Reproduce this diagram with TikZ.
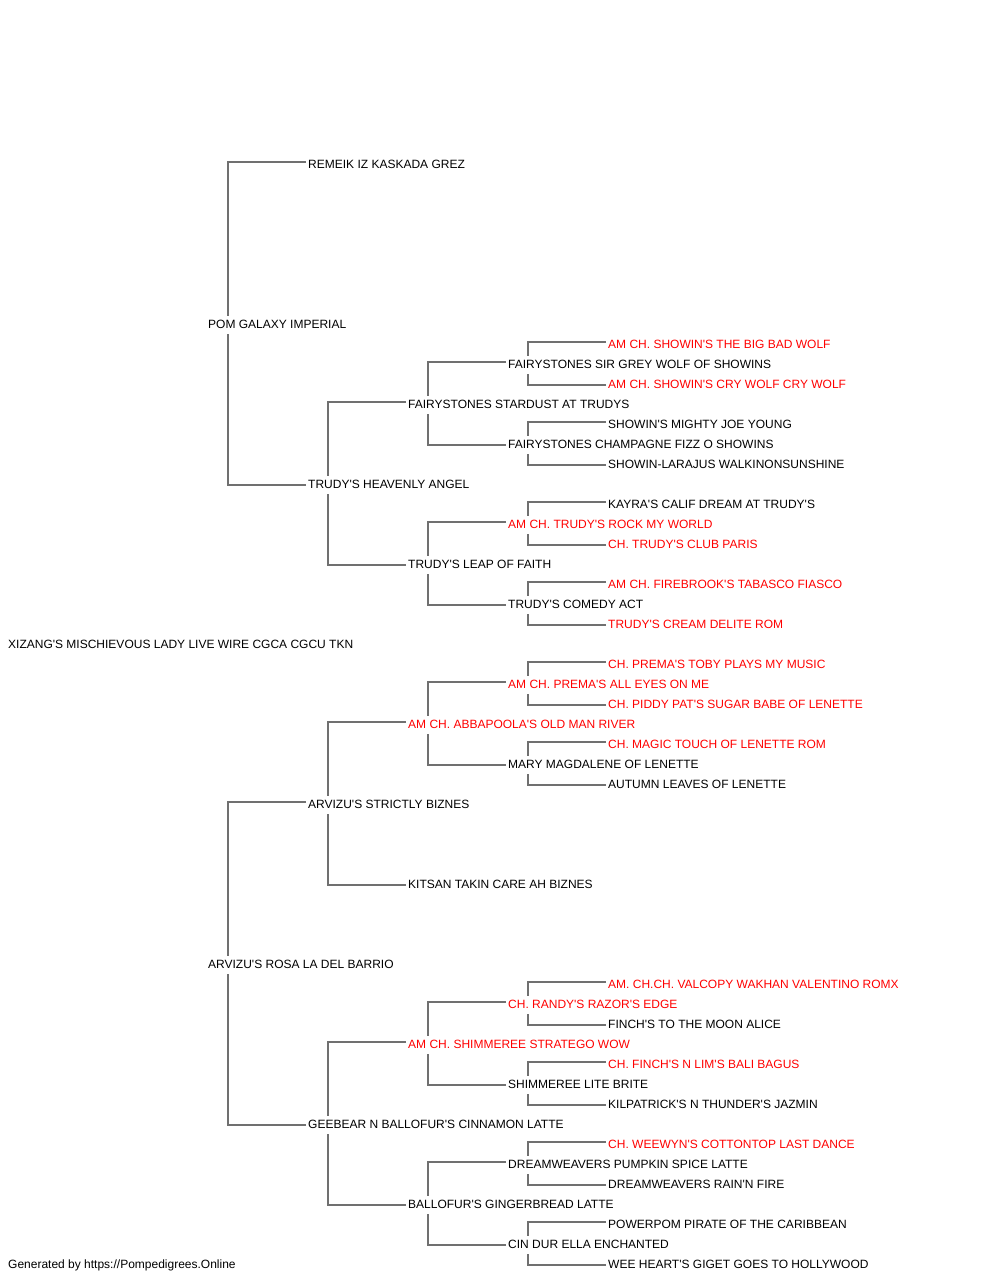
\documentclass[tikz,border=0pt]{standalone}
\usepackage{fontspec}
\setmainfont{Liberation Sans}
\newcommand\ap{\textquotesingle}
\definecolor{lncol}{HTML}{707070}
\definecolor{champ}{HTML}{FF0000}
\tikzset{
  dog/.style={anchor=west, inner sep=0pt, text height=8.6pt, text depth=0pt, font=\fontsize{12pt}{14pt}\selectfont, text=black},
  champion/.style={dog, text=champ},
  ln/.style={draw=lncol, line width=1.6pt}
}
\newcommand\pedlink[3]{%
  \draw[ln] ([xshift=-2pt,yshift=2pt]#2.west) -| ([xshift=20pt,yshift=8pt]#1.west);
  \draw[ln] ([xshift=-2pt,yshift=-1pt]#3.west) -| ([xshift=20pt,yshift=-10pt]#1.west);
}
\begin{document}
\begin{tikzpicture}[x=1pt,y=-1pt]
\useasboundingbox (0,0) rectangle (1000,1280);
% root
\node[dog] (r) at (8,644) {XIZANG\ap S MISCHIEVOUS LADY LIVE WIRE CGCA CGCU TKN};
% gen 1
\node[dog] (s) at (208,324) {POM GALAXY IMPERIAL};
\node[dog] (d) at (208,964) {ARVIZU\ap S ROSA LA DEL BARRIO};
% gen 2
\node[dog] (ss) at (308,164) {REMEIK IZ KASKADA GREZ};
\node[dog] (sd) at (308,484) {TRUDY\ap S HEAVENLY ANGEL};
\node[dog] (ds) at (308,804) {ARVIZU\ap S STRICTLY BIZNES};
\node[dog] (dd) at (308,1124) {GEEBEAR N BALLOFUR\ap S CINNAMON LATTE};
% gen 3
\node[dog] (sds) at (408,404) {FAIRYSTONES STARDUST AT TRUDYS};
\node[dog] (sdd) at (408,564) {TRUDY\ap S LEAP OF FAITH};
\node[champion] (dss) at (408,724) {AM CH. ABBAPOOLA\ap S OLD MAN RIVER};
\node[dog] (dsd) at (408,884) {KITSAN TAKIN CARE AH BIZNES};
\node[champion] (dds) at (408,1044) {AM CH. SHIMMEREE STRATEGO WOW};
\node[dog] (ddd) at (408,1204) {BALLOFUR\ap S GINGERBREAD LATTE};
% gen 4
\node[dog] (sdss) at (508,364) {FAIRYSTONES SIR GREY WOLF OF SHOWINS};
\node[dog] (sdsd) at (508,444) {FAIRYSTONES CHAMPAGNE FIZZ O SHOWINS};
\node[champion] (sdds) at (508,524) {AM CH. TRUDY\ap S ROCK MY WORLD};
\node[dog] (sddd) at (508,604) {TRUDY\ap S COMEDY ACT};
\node[champion] (dsss) at (508,684) {AM CH. PREMA\ap S ALL EYES ON ME};
\node[dog] (dssd) at (508,764) {MARY MAGDALENE OF LENETTE};
\node[champion] (ddss) at (508,1004) {CH. RANDY\ap S RAZOR\ap S EDGE};
\node[dog] (ddsd) at (508,1084) {SHIMMEREE LITE BRITE};
\node[dog] (ddds) at (508,1164) {DREAMWEAVERS PUMPKIN SPICE LATTE};
\node[dog] (dddd) at (508,1244) {CIN DUR ELLA ENCHANTED};
% gen 5
\node[champion] (sdsss) at (608,344) {AM CH. SHOWIN\ap S THE BIG BAD WOLF};
\node[champion] (sdssd) at (608,384) {AM CH. SHOWIN\ap S CRY WOLF CRY WOLF};
\node[dog] (sdsds) at (608,424) {SHOWIN\ap S MIGHTY JOE YOUNG};
\node[dog] (sdsdd) at (608,464) {SHOWIN-LARAJUS WALKINONSUNSHINE};
\node[dog] (sddss) at (608,504) {KAYRA\ap S CALIF DREAM AT TRUDY\ap S};
\node[champion] (sddsd) at (608,544) {CH. TRUDY\ap S CLUB PARIS};
\node[champion] (sddds) at (608,584) {AM CH. FIREBROOK\ap S TABASCO FIASCO};
\node[champion] (sdddd) at (608,624) {TRUDY\ap S CREAM DELITE ROM};
\node[champion] (dssss) at (608,664) {CH. PREMA\ap S TOBY PLAYS MY MUSIC};
\node[champion] (dsssd) at (608,704) {CH. PIDDY PAT\ap S SUGAR BABE OF LENETTE};
\node[champion] (dssds) at (608,744) {CH. MAGIC TOUCH OF LENETTE ROM};
\node[dog] (dssdd) at (608,784) {AUTUMN LEAVES OF LENETTE};
\node[champion] (ddsss) at (608,984) {AM. CH.CH. VALCOPY WAKHAN VALENTINO ROMX};
\node[dog] (ddssd) at (608,1024) {FINCH\ap S TO THE MOON ALICE};
\node[champion] (ddsds) at (608,1064) {CH. FINCH\ap S N LIM\ap S BALI BAGUS};
\node[dog] (ddsdd) at (608,1104) {KILPATRICK\ap S N THUNDER\ap S JAZMIN};
\node[champion] (dddss) at (608,1144) {CH. WEEWYN\ap S COTTONTOP LAST DANCE};
\node[dog] (dddsd) at (608,1184) {DREAMWEAVERS RAIN\ap N FIRE};
\node[dog] (dddds) at (608,1224) {POWERPOM PIRATE OF THE CARIBBEAN};
\node[dog] (ddddd) at (608,1264) {WEE HEART\ap S GIGET GOES TO HOLLYWOOD};
% footer
\node[dog] (foot) at (8,1264) {Generated by https://Pompedigrees.Online};
% connectors
\pedlink{s}{ss}{sd}
\pedlink{d}{ds}{dd}
\pedlink{sd}{sds}{sdd}
\pedlink{ds}{dss}{dsd}
\pedlink{dd}{dds}{ddd}
\pedlink{sds}{sdss}{sdsd}
\pedlink{sdd}{sdds}{sddd}
\pedlink{dss}{dsss}{dssd}
\pedlink{dds}{ddss}{ddsd}
\pedlink{ddd}{ddds}{dddd}
\pedlink{sdss}{sdsss}{sdssd}
\pedlink{sdsd}{sdsds}{sdsdd}
\pedlink{sdds}{sddss}{sddsd}
\pedlink{sddd}{sddds}{sdddd}
\pedlink{dsss}{dssss}{dsssd}
\pedlink{dssd}{dssds}{dssdd}
\pedlink{ddss}{ddsss}{ddssd}
\pedlink{ddsd}{ddsds}{ddsdd}
\pedlink{ddds}{dddss}{dddsd}
\pedlink{dddd}{dddds}{ddddd}
\end{tikzpicture}
\end{document}
